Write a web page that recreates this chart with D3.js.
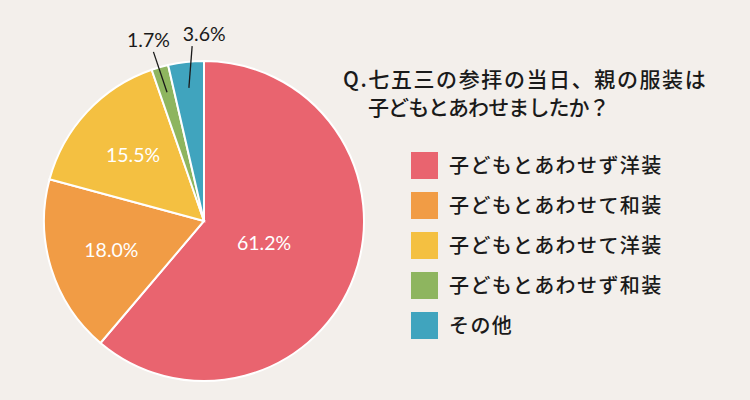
<!DOCTYPE html>
<html>
<head>
<meta charset="utf-8">
<script src="https://cdn.jsdelivr.net/npm/d3@7"></script>
<style>
  html, body { margin: 0; padding: 0; background: #f3efeb; }
  svg { display: block; }
  .jp { font-family: "Noto Sans CJK JP", sans-serif; fill: #1a1a1a; font-weight: 500; }
  .pct { font-family: "Lato", "Noto Sans", sans-serif; }
</style>
</head>
<body>
<svg id="chart" width="750" height="400"></svg>
<script>
// survey answers, clockwise from 12 o'clock
const categories = ["子どもとあわせず洋装", "子どもとあわせて和装", "子どもとあわせて洋装", "子どもとあわせず和装", "その他"];
const values = [61.2, 18.0, 15.5, 1.7, 3.6];
const colors = ["#e9646f", "#f19c45", "#f4c041", "#8eb55f", "#40a4be"];
const titleLines = ["Q.七五三の参拝の当日、親の服装は", "子どもとあわせましたか？"];

const svg = d3.select("#chart");
const cx = 204, cy = 221, r = 160;

const pie = d3.pie().sort(null).value(d => d)(values);
const arc = d3.arc().innerRadius(0).outerRadius(r);

const g = svg.append("g").attr("transform", "translate(" + cx + "," + cy + ")");

g.selectAll("path.slice")
  .data(pie)
  .enter().append("path")
  .attr("class", "slice")
  .attr("d", arc)
  .attr("fill", (d, i) => colors[i])
  .attr("stroke", "#ffffff")
  .attr("stroke-width", 2);

// big slices get their label inside
const inner = pie.filter(d => d.value > 5);
g.selectAll("text.in")
  .data(inner)
  .enter().append("text")
  .attr("class", "pct")
  .attr("transform", d => {
    const lr = d.value > 50 ? 64 : 97;
    const c = d3.arc().innerRadius(lr).outerRadius(lr).centroid(d);
    return "translate(" + c[0] + "," + c[1] + ")";
  })
  .attr("text-anchor", "middle")
  .attr("dy", "0.36em")
  .attr("fill", "#ffffff")
  .attr("font-size", 19.5)
  .text(d => d.value.toFixed(1) + "%");

// small slices get a leader line and an outside label
const outer = pie.filter(d => d.value <= 5);
const lineIn = d3.arc().innerRadius(134).outerRadius(134);
const lineOut = d3.arc().innerRadius(176).outerRadius(176);
const shift = v => v < 2 ? -2 : 8;   // nudge the top end a bit

outer.forEach(d => {
  const a = lineIn.centroid(d);
  const b = lineOut.centroid(d);
  const bx = b[0] + shift(d.value);
  g.append("line")
    .attr("x1", a[0]).attr("y1", a[1])
    .attr("x2", bx).attr("y2", b[1])
    .attr("stroke", "#1a1a1a")
    .attr("stroke-width", 1.3);
  g.append("text")
    .attr("class", "pct")
    .attr("x", bx + (d.value < 2 ? -5 : 12))
    .attr("y", b[1] - 5)
    .attr("text-anchor", "middle")
    .attr("fill", "#1a1a1a")
    .attr("font-size", 19.5)
    .text(d.value.toFixed(1) + "%");
});

// title
svg.selectAll("text.title")
  .data(titleLines)
  .enter().append("text")
  .attr("class", "jp")
  .attr("x", (d, i) => i === 0 ? 343 : 368)
  .attr("y", (d, i) => 87 + i * 28)
  .attr("font-size", 21)
  .attr("letter-spacing", (d, i) => i === 0 ? 1.6 : -0.9)
  .text(d => d);

// legend
const y = d3.scaleBand().domain(categories).range([152, 352]).paddingInner(0);
const leg = svg.selectAll("g.leg")
  .data(categories)
  .enter().append("g")
  .attr("transform", d => "translate(411," + y(d) + ")");

leg.append("rect")
  .attr("width", 27).attr("height", 27)
  .attr("fill", (d, i) => colors[i]);

leg.append("text")
  .attr("class", "jp")
  .attr("x", 38)
  .attr("y", 14)
  .attr("dy", "0.36em")
  .attr("font-size", 20)
  .attr("letter-spacing", 1.4)
  .text(d => d);
</script>
</body>
</html>
